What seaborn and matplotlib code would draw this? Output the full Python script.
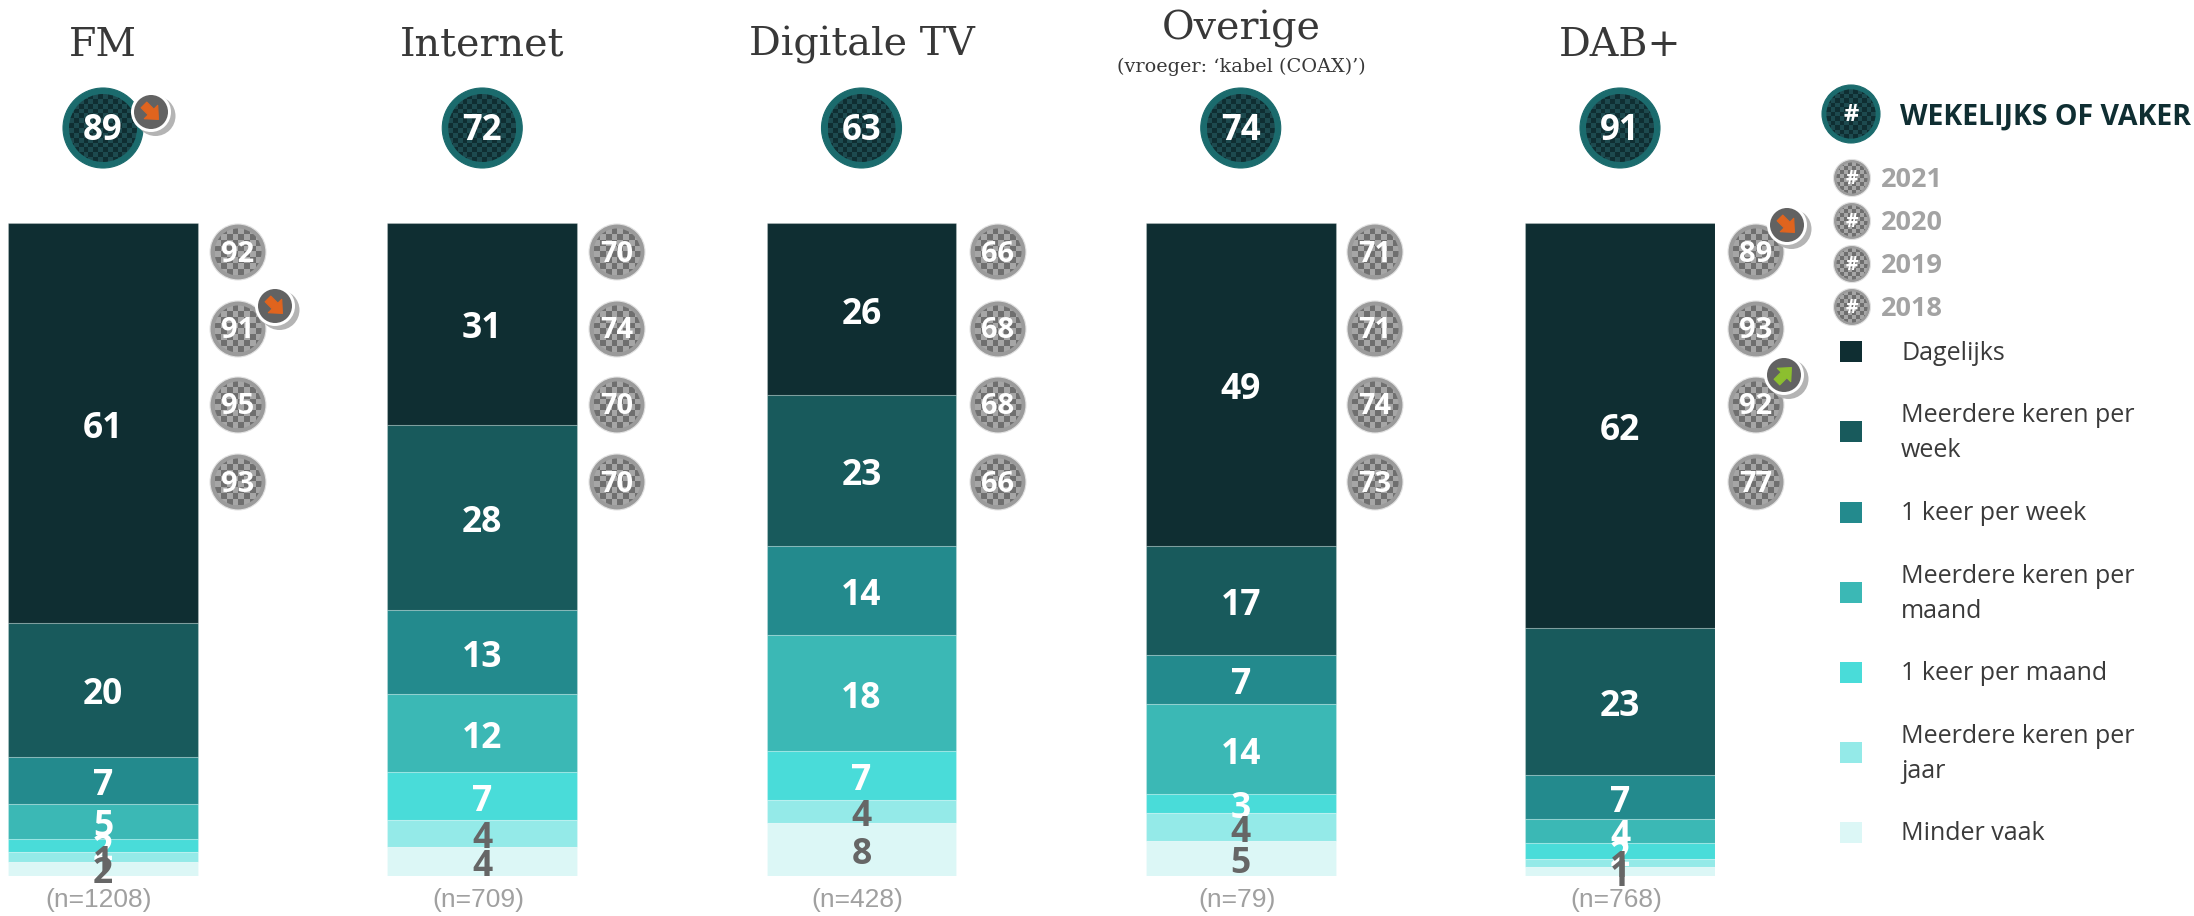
import numpy as np
import matplotlib
matplotlib.use("Agg")
import matplotlib.pyplot as plt
from matplotlib.colors import ListedColormap
from matplotlib.patches import Circle, Rectangle, Polygon
import seaborn as sns

# ---- data ----
media = ["FM", "Internet", "Digitale TV", "Overige", "DAB+"]
sample_labels = ["(n=1208)", "(n=709)", "(n=428)", "(n=79)", "(n=768)"]
weekly = [89, 72, 63, 74, 91]
years = ["2021", "2020", "2019", "2018"]
y2021 = [92, 70, 66, 71, 89]
y2020 = [91, 74, 68, 71, 93]
y2019 = [95, 70, 68, 74, 92]
y2018 = [93, 70, 66, 73, 77]
freq_names = ["Dagelijks", "Meerdere keren per\nweek", "1 keer per week",
              "Meerdere keren per\nmaand", "1 keer per maand",
              "Meerdere keren per\njaar", "Minder vaak"]
dagelijks = [61.3, 30.9, 26.4, 49.4, 62.0]
meer_week = [20.4, 28.4, 23.1, 16.8, 22.6]
een_week = [7.2, 12.9, 13.6, 7.4, 6.7]
meer_maand = [5.4, 11.9, 17.8, 13.9, 3.7]
een_maand = [2.1, 7.4, 7.4, 2.9, 2.4]
meer_jaar = [1.4, 4.1, 3.6, 4.3, 1.2]
minder = [2.2, 4.4, 8.1, 5.3, 1.4]
series = [dagelijks, meer_week, een_week, meer_maand, een_maand, meer_jaar, minder]
colors = ["#0f2e32", "#185a5c", "#238a8d", "#3bb8b5", "#49dcd9", "#94eae8", "#dcf7f6"]
label_colors = ["white"] * 5 + ["#666666"] * 2

W, H = 2194, 916
sns.set_theme(style="white")
plt.rcParams["font.family"] = ["Open Sans", "DejaVu Sans"]
fig = plt.figure(figsize=(W / 100, H / 100), dpi=100, facecolor="white")

# ---- stacked bars ----
spacing = 379.25
left = 103 - 0.25 * spacing
ax = fig.add_axes([left / W, 1 - 876 / H, 4.5 * spacing / W, 653 / H])
bottom = np.zeros(len(media))
for vals, col, lc in zip(series, colors, label_colors):
    sns.barplot(x=media, y=vals, bottom=bottom, color=col, saturation=1, width=0.5,
                edgecolor=(1, 1, 1, 0.22), linewidth=0.8, ax=ax)
    for i, v in enumerate(vals):
        ax.text(i, bottom[i] + v / 2 + 0.85, f"{round(v)}", ha="center", va="center",
                color=lc, fontsize=25.5, fontweight="bold", family="Open Sans", zorder=5)
    bottom = bottom + np.array(vals)
ax.set_xlim(-0.25, 4.25)
ax.set_ylim(100, 0)
ax.axis("off")

# ---- overlay in pixel layout for headers, bubbles, legend ----
ov = fig.add_axes([0, 0, 1, 1], zorder=3)
ov.patch.set_alpha(0)


def checker(cx, cy, r, cell, c1, c2):
    n = int(2 * r / cell) + 1
    arr = np.indices((n, n)).sum(axis=0) % 2
    im = ov.imshow(arr, cmap=ListedColormap([c1, c2]), extent=(cx - r, cx + r, cy + r, cy - r),
                   interpolation="nearest", aspect="auto", zorder=2)
    im.set_clip_path(Circle((cx, cy), r, transform=ov.transData))


def bubble(cx, cy, r, ring, txt, fs, kind="grey", cell=6.2, dy=3):
    halo = "#e2e2e2" if kind == "grey" else ring
    ov.add_patch(Circle((cx, cy), r, fc=ring, ec=halo, lw=0.8, zorder=1))
    if kind == "grey":
        checker(cx, cy, r - 4.5 * r / 28, cell, "#a6a6a6", "#6f6f6f")
    else:
        checker(cx, cy, r - 6 * r / 40, cell, "#0f2e32", "#1d4a4f")
    ov.text(cx, cy + dy, txt, ha="center", va="center", color="white", fontsize=fs,
            fontweight="bold", family="Open Sans", zorder=4)


ARROW_SHAPE = np.array([[-10, -4], [0, -4], [0, -9.5], [10.5, 0], [0, 9.5], [0, 4], [-10, 4]])


def badge(cx, cy, col, angle):
    ov.add_patch(Circle((cx + 4.5, cy + 4), 20, fc="#b4b4b4", ec="none", zorder=5))
    ov.add_patch(Circle((cx, cy), 20, fc="white", ec="none", zorder=6))
    ov.add_patch(Circle((cx, cy), 17, fc="#626262", ec="none", zorder=7))
    a = np.radians(angle)
    rot = np.array([[np.cos(a), -np.sin(a)], [np.sin(a), np.cos(a)]])
    pts = ARROW_SHAPE @ rot.T + np.array([cx, cy])
    ov.add_patch(Polygon(pts, closed=True, fc=col, ec=col, lw=0.8, joinstyle="round", zorder=8))


centers = [103 + spacing * i for i in range(5)]
small_x = [238, 617, 998, 1375, 1756]
row_y = [252, 329, 405, 482]
title_font = ["DejaVu Serif"]
for i, name in enumerate(media):
    ty = 29 if name == "Overige" else 45
    ov.text(centers[i], ty, name, ha="center", va="center", fontsize=28.5, color="#383838",
            family=title_font)
    bubble(centers[i], 128, 40, "#1b6b6d", str(weekly[i]), 25, kind="teal", cell=5, dy=3)
    for yv, y in zip([y2021, y2020, y2019, y2018], row_y):
        bubble(small_x[i], y, 28, "#9b9b9b", str(yv[i]), 21, dy=2)
    ov.text(centers[i] - 4, 900, sample_labels[i], ha="center", va="center", fontsize=19,
            color="#a0a0a0", family="Liberation Sans")
ov.text(1241, 67, "(vroeger: ‘kabel (COAX)’)", ha="center", va="center", fontsize=13.9,
        color="#383838", family=title_font)

badge(151, 112, "#e0641e", 45)
badge(275, 306, "#e0641e", 45)
badge(1787, 225, "#e0641e", 45)
badge(1784, 375, "#8cbf2f", -45)

# ---- legend ----
bubble(1851, 114, 29, "#1b6b6d", "#", 17, kind="teal", cell=4.5, dy=1)
ov.text(1900, 117, "WEKELIJKS OF VAKER", ha="left", va="center", fontsize=20.5,
        fontweight="bold", color="#0f2e32", family="Open Sans")
for yr, y in zip(years, [178, 221, 264, 307]):
    bubble(1852, y, 18.5, "#9b9b9b", "#", 14, cell=4.2, dy=1)
    ov.text(1881, y + 2, yr, ha="left", va="center", fontsize=19.5, fontweight="bold",
            color="#a3a3a3", family="Open Sans")
for name, col, y in zip(freq_names, colors, [351, 431, 512, 592, 672, 752, 832]):
    ov.add_patch(Rectangle((1840, y - 10.5), 22, 21, fc=col, ec="none", zorder=2))
    ov.text(1901, y + 2, name, ha="left", va="center", fontsize=18, color="#3a3a3a",
            linespacing=1.52, family="Open Sans")

ov.set_xlim(0, W)
ov.set_ylim(H, 0)
ov.axis("off")

fig.savefig("out.png", dpi=100, facecolor="white")
